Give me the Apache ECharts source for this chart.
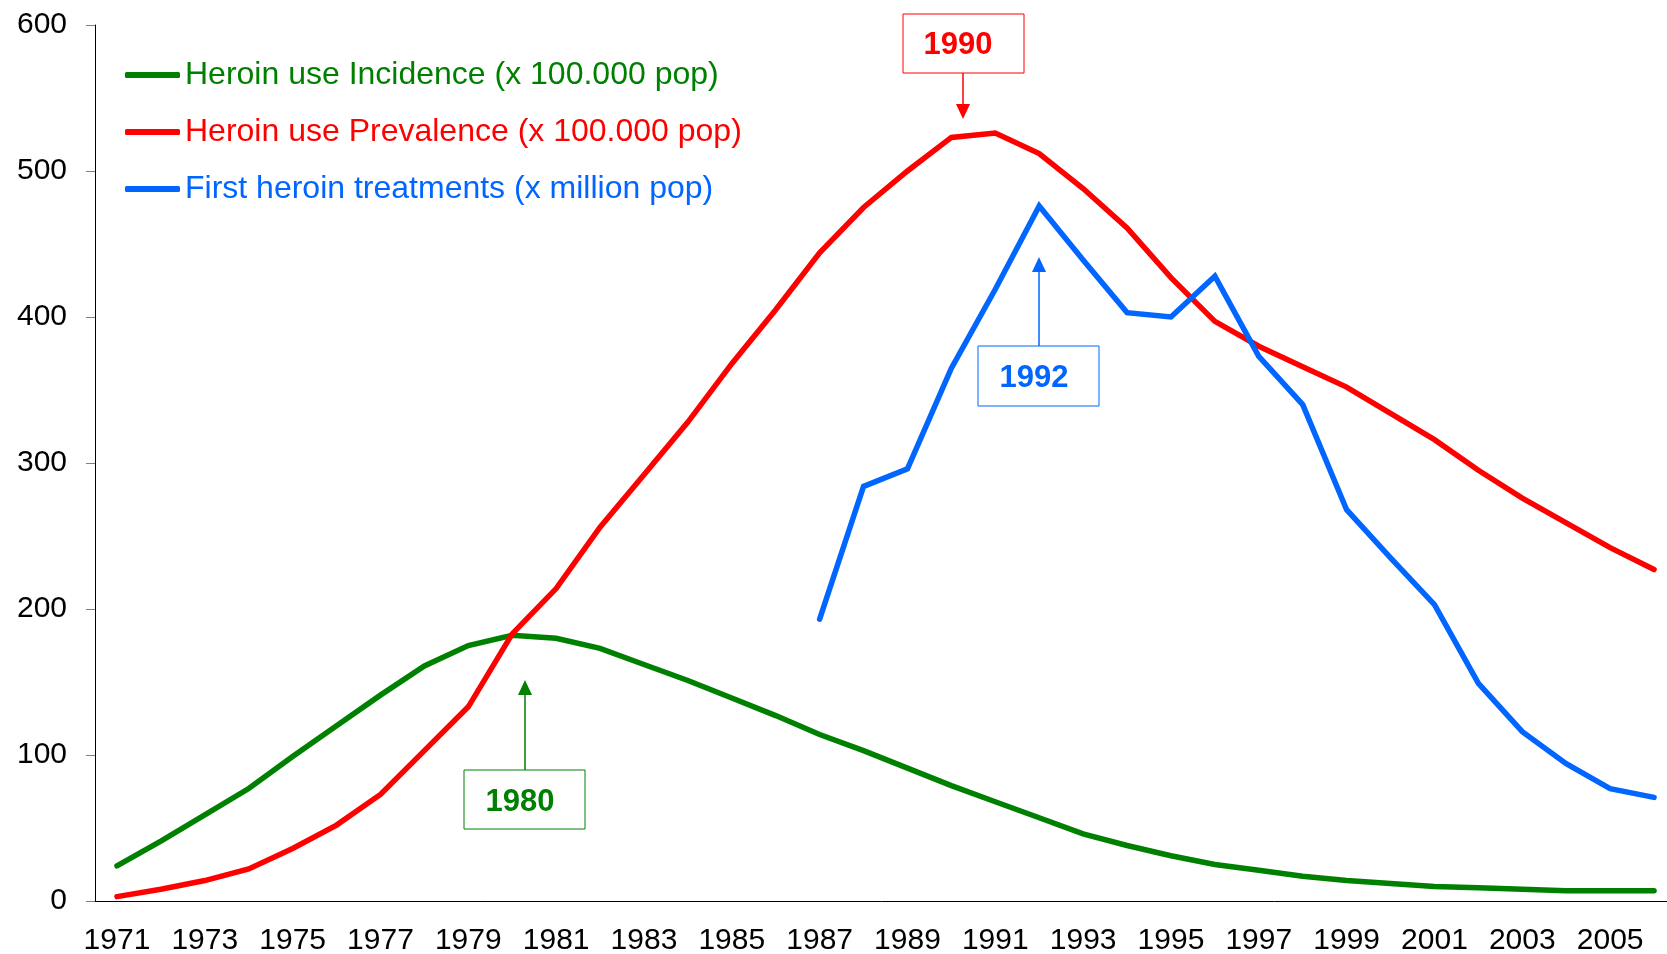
<!DOCTYPE html>
<html>
<head>
<meta charset="utf-8">
<script src="https://cdn.jsdelivr.net/npm/echarts@6.0.0/dist/echarts.min.js"></script>
<style>
  html, body { margin: 0; padding: 0; background: #fff; }
  #chart { width: 1667px; height: 954px; }
</style>
</head>
<body>
<div id="chart"></div>
<script>
// years on the x axis
const years = [];
for (let y = 1971; y <= 2006; y++) years.push(String(y));

// Heroin use Incidence (x 100.000 pop)
const incidence = [24, 41, 59, 77, 99, 120, 141, 161, 175, 182, 180, 173, 162, 151, 139, 127, 114, 103, 91, 79, 68, 57, 46, 38, 31, 25, 21, 17, 14, 12, 10, 9, 8, 7, 7, 7];
// Heroin use Prevalence (x 100.000 pop)
const prevalence = [3, 8, 14, 22, 36, 52, 73, 103, 133, 183, 214, 256, 292, 328, 368, 405, 444, 475, 500, 523, 526, 512, 488, 461, 427, 397, 380, 366, 352, 334, 316, 295, 276, 259, 242, 227];
// First heroin treatments (x million pop), starts in 1987
const treatments = ['-', '-', '-', '-', '-', '-', '-', '-', '-', '-', '-', '-', '-', '-', '-', '-',
  193, 284, 296, 365, 419, 476, 439, 403, 400, 428, 373, 340, 268, 235, 203, 149, 116, 94, 77, 71];

const names = [
  'Heroin use Incidence (x 100.000 pop)',
  'Heroin use Prevalence (x 100.000 pop)',
  'First heroin treatments (x million pop)'
];
const colors = ['#008000', '#ff0000', '#0066ff'];

const FONT = '"Liberation Sans", Arial, sans-serif';

// boxed label with an arrow pointing at the curve
function callout(text, color, box, arrow) {
  const dir = arrow.tip < arrow.from ? 1 : -1; // 1 = pointing up
  return [
    {
      type: 'rect',
      shape: { x: box.x, y: box.y, width: box.w, height: box.h },
      style: { fill: '#fff', stroke: color, lineWidth: 1 }
    },
    {
      type: 'text',
      x: box.tx, y: box.ty,
      style: {
        text: text, fill: color, font: 'bold 31px ' + FONT,
        align: 'center', verticalAlign: 'middle'
      }
    },
    {
      type: 'line',
      shape: { x1: arrow.x, y1: arrow.from, x2: arrow.x, y2: arrow.tip + dir * 14 },
      style: { stroke: color, lineWidth: 1.5 }
    },
    {
      type: 'polygon',
      shape: {
        points: [[arrow.x, arrow.tip], [arrow.x - 7, arrow.tip + dir * 15], [arrow.x + 7, arrow.tip + dir * 15]]
      },
      style: { fill: color }
    }
  ];
}

const chart = echarts.init(document.getElementById('chart'));

chart.setOption({
  animation: false,
  backgroundColor: '#fff',
  // the plot runs a little past the right edge of the picture
  grid: { left: 95, width: 1581, top: 25, bottom: 53, outerBoundsMode: 'none' },
  legend: {
    orient: 'vertical',
    left: 125,
    top: 59,
    padding: 0,
    icon: 'roundRect',
    itemWidth: 55,
    itemHeight: 6,
    itemGap: 25,
    textStyle: { fontSize: 32, fontFamily: FONT, lineHeight: 32 },
    data: names.map((n, i) => ({ name: n, textStyle: { color: colors[i] } }))
  },
  xAxis: {
    type: 'category',
    data: years,
    boundaryGap: true,
    axisLine: { lineStyle: { color: '#000', width: 1 } },
    axisTick: { interval: 1, length: 10, lineStyle: { color: '#808080' } },
    axisLabel: { interval: 1, color: '#000', fontSize: 30, fontFamily: FONT, margin: 25 }
  },
  yAxis: {
    type: 'value',
    min: 0,
    max: 600,
    interval: 100,
    splitLine: { show: false },
    axisLine: { show: true, lineStyle: { color: '#000', width: 1 } },
    axisTick: { show: true, length: 9, lineStyle: { color: '#808080' } },
    axisLabel: { color: '#000', fontSize: 30, fontFamily: FONT, margin: 28 }
  },
  series: [incidence, prevalence, treatments].map((d, i) => ({
    name: names[i],
    type: 'line',
    data: d,
    symbol: 'none',
    color: colors[i],
    lineStyle: { width: 5.5, color: colors[i], cap: 'round', join: 'miter' },
    z: 2 + i
  })),
  graphic: [].concat(
    callout('1990', '#ff0000',
      { x: 903, y: 14, w: 121, h: 59, tx: 958, ty: 45 },
      { x: 963, from: 73, tip: 119 }),
    callout('1980', '#008000',
      { x: 464, y: 770, w: 121, h: 59, tx: 520, ty: 802 },
      { x: 525, from: 770, tip: 680 }),
    callout('1992', '#0066ff',
      { x: 978, y: 346, w: 121, h: 60, tx: 1034, ty: 378 },
      { x: 1039, from: 346, tip: 257 })
  )
});
</script>
</body>
</html>
